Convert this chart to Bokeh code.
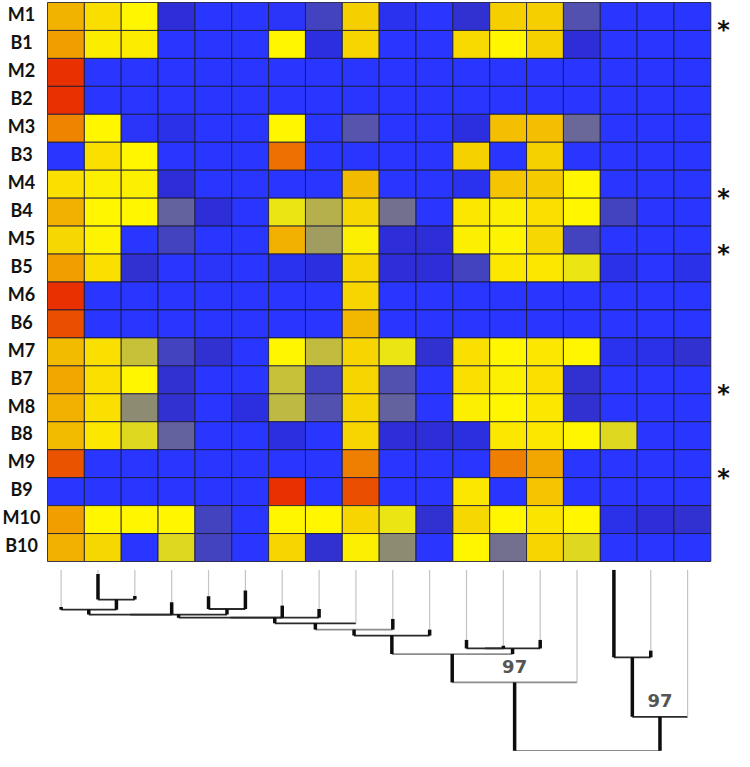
import numpy as np
from bokeh.plotting import figure
from bokeh.models import Range1d, LinearColorMapper, ColumnDataSource
from bokeh.core.properties import value
from bokeh.embed import file_html
from bokeh.resources import INLINE

# ---------------- data ----------------
row_labels = ["M1", "B1", "M2", "B2", "M3", "B3", "M4", "B4", "M5", "B5",
              "M6", "B6", "M7", "B7", "M8", "B8", "M9", "B9", "M10", "B10"]

m1 = [0.70, 0.57, 0.50, 0.05, 0.00, 0.00, 0.01, 0.10, 0.62, 0.02, 0.00, 0.06, 0.62, 0.62, 0.13, 0.00, 0.00, 0.00]
b1 = [0.75, 0.53, 0.53, 0.00, 0.00, 0.00, 0.50, 0.04, 0.60, 0.00, 0.00, 0.58, 0.50, 0.61, 0.05, 0.00, 0.00, 0.00]
m2 = [1.00, 0.00, 0.00, 0.00, 0.00, 0.00, 0.00, 0.00, 0.00, 0.00, 0.00, 0.00, 0.00, 0.00, 0.00, 0.00, 0.00, 0.00]
b2 = [1.00, 0.00, 0.00, 0.00, 0.00, 0.00, 0.00, 0.00, 0.00, 0.00, 0.00, 0.00, 0.00, 0.00, 0.00, 0.00, 0.00, 0.00]
m3 = [0.82, 0.50, 0.01, 0.03, 0.00, 0.00, 0.50, 0.00, 0.14, 0.00, 0.00, 0.04, 0.67, 0.67, 0.18, 0.00, 0.00, 0.00]
b3 = [0.00, 0.56, 0.50, 0.00, 0.00, 0.00, 0.86, 0.00, 0.00, 0.00, 0.00, 0.61, 0.00, 0.61, 0.00, 0.00, 0.00, 0.00]
m4 = [0.56, 0.52, 0.52, 0.05, 0.00, 0.00, 0.00, 0.00, 0.68, 0.00, 0.00, 0.02, 0.65, 0.63, 0.50, 0.00, 0.00, 0.00]
b4 = [0.71, 0.50, 0.50, 0.17, 0.05, 0.00, 0.46, 0.34, 0.59, 0.20, 0.00, 0.54, 0.52, 0.56, 0.50, 0.10, 0.00, 0.00]
m5 = [0.59, 0.51, 0.00, 0.10, 0.00, 0.00, 0.71, 0.30, 0.52, 0.05, 0.05, 0.52, 0.51, 0.59, 0.10, 0.00, 0.00, 0.00]
b5 = [0.75, 0.56, 0.06, 0.00, 0.01, 0.00, 0.02, 0.04, 0.60, 0.05, 0.05, 0.10, 0.54, 0.54, 0.46, 0.03, 0.00, 0.03]
m6 = [1.00, 0.00, 0.00, 0.00, 0.00, 0.00, 0.00, 0.00, 0.60, 0.00, 0.00, 0.00, 0.00, 0.00, 0.00, 0.00, 0.00, 0.00]
b6 = [0.93, 0.00, 0.00, 0.00, 0.00, 0.00, 0.00, 0.00, 0.69, 0.00, 0.00, 0.00, 0.00, 0.00, 0.00, 0.00, 0.00, 0.00]
m7 = [0.68, 0.56, 0.38, 0.10, 0.06, 0.00, 0.50, 0.37, 0.60, 0.46, 0.06, 0.56, 0.50, 0.54, 0.50, 0.02, 0.03, 0.06]
b7 = [0.73, 0.56, 0.50, 0.06, 0.00, 0.00, 0.38, 0.10, 0.60, 0.13, 0.00, 0.56, 0.52, 0.56, 0.06, 0.00, 0.00, 0.00]
m8 = [0.71, 0.56, 0.26, 0.06, 0.00, 0.04, 0.36, 0.13, 0.60, 0.17, 0.00, 0.52, 0.50, 0.54, 0.06, 0.00, 0.00, 0.00]
b8 = [0.68, 0.54, 0.43, 0.17, 0.00, 0.00, 0.04, 0.00, 0.60, 0.05, 0.05, 0.04, 0.54, 0.54, 0.50, 0.43, 0.00, 0.00]
m9 = [0.92, 0.00, 0.00, 0.00, 0.00, 0.00, 0.00, 0.00, 0.83, 0.00, 0.00, 0.00, 0.83, 0.73, 0.00, 0.00, 0.00, 0.00]
b9 = [0.00, 0.00, 0.00, 0.00, 0.00, 0.00, 1.00, 0.00, 0.93, 0.00, 0.00, 0.54, 0.00, 0.65, 0.00, 0.00, 0.00, 0.00]
m10 = [0.75, 0.50, 0.50, 0.50, 0.10, 0.00, 0.50, 0.50, 0.60, 0.46, 0.06, 0.59, 0.50, 0.55, 0.50, 0.03, 0.05, 0.06]
b10 = [0.71, 0.59, 0.00, 0.43, 0.10, 0.00, 0.60, 0.06, 0.52, 0.26, 0.00, 0.50, 0.20, 0.60, 0.43, 0.00, 0.00, 0.00]

matrix = [m1, b1, m2, b2, m3, b3, m4, b4, m5, b5, m6, b6, m7, b7, m8, b8, m9, b9, m10, b10]

# pairs marked with an asterisk (row directly above the marked boundary)
asterisk_rows = ["M1", "M4", "M5", "B7", "M9"]

# dendrogram: merges (child_a, child_b, height); leaves 0..17, internal nodes 18+
merges = [
    (1, 2, 0.164),    # 18
    (0, 18, 0.2196),  # 19
    (19, 3, 0.247),   # 20
    (4, 5, 0.216),    # 21
    (20, 21, 0.247),  # 22
    (22, 6, 0.264),   # 23
    (23, 7, 0.264),   # 24
    (24, 8, 0.295),   # 25
    (25, 9, 0.330),   # 26
    (26, 10, 0.363),  # 27
    (11, 12, 0.434),  # 28
    (28, 13, 0.434),  # 29
    (27, 29, 0.465),  # 30
    (30, 14, 0.622),  # 31
    (15, 16, 0.483),  # 32
    (32, 17, 0.812),  # 33
    (31, 33, 1.000),  # 34 root
]
# branch length of each leaf (drawn thick)
leaf_branch = [0.015, 0.142, 0.020, 0.068, 0.070, 0.102, 0.067, 0.048, 0.0,
               0.059, 0.033, 0.047, 0.015, 0.047, 0.0, 0.483, 0.037, 0.0]
grey_bars = [26, 30, 31, 34]
bootstrap_nodes = [31, 33]
bootstrap_vals = ["97", "97"]

# ---------------- style ----------------
anchors = [(0.00, "#2936ff"), (0.05, "#2d2dd6"), (0.50, "#fff700"), (0.56, "#f9e000"),
           (0.62, "#f6cf00"), (0.68, "#f3bc00"), (0.74, "#f0a300"), (0.83, "#ee8000"),
           (0.92, "#ea5400"), (1.00, "#e83000")]

def hex2rgb(h):
    return [int(h[i:i + 2], 16) for i in (1, 3, 5)]

pos_a = np.array([a[0] for a in anchors])
rgb_a = np.array([hex2rgb(a[1]) for a in anchors], dtype=float)
ts = np.linspace(0, 1, 256)
palette = []
for t in ts:
    c = [np.interp(t, pos_a, rgb_a[:, k]) for k in range(3)]
    palette.append("#%02x%02x%02x" % tuple(int(round(v)) for v in c))
mapper = LinearColorMapper(palette=palette, low=0, high=1)

n_rows = len(row_labels)
n_cols = len(matrix[0])

p = figure(width=730, height=751,
           x_range=Range1d(-1.2755, 18.534), y_range=Range1d(-6.798, 20.0716),
           x_axis_location=None, y_axis_location=None,
           output_backend="svg", toolbar_location=None, min_border=0)
try:
    p.title = None
except Exception:
    p.title.visible = False
p.grid.visible = False
p.outline_line_color = None

xs, ys, vs = [], [], []
for r, row in enumerate(matrix):
    for c, v in enumerate(row):
        xs.append(c + 0.5)
        ys.append(n_rows - r - 0.5)
        vs.append(v)
src = ColumnDataSource(dict(x=xs, y=ys, v=vs))
p.rect(x="x", y="y", width=1, height=1, source=src,
       fill_color={"field": "v", "transform": mapper},
       line_color="#1b1b3a", line_width=1, line_alpha=0.85)

# row labels
p.text(x=[-0.705] * n_rows, y=[n_rows - r - 0.5 + 0.08 for r in range(n_rows)],
       text=row_labels, text_font=value("Lato"), text_font_style="bold",
       text_font_size="18px", text_align="center", text_baseline="middle",
       text_color="#111111")

# asterisks
ast_y = [n_rows - row_labels.index(lbl) - 1 for lbl in asterisk_rows]
p.text(x=[18.345] * len(ast_y), y=ast_y, text=["*"] * len(ast_y),
       text_font=value("DejaVu Sans"), text_font_style="bold", text_font_size="24px",
       text_align="center", text_baseline="middle", text_color="#111111")

# ---------------- dendrogram ----------------
p.extra_y_ranges = {"dend": Range1d(start=1.0039, end=-3.1484)}

n_leaves = n_cols
xpos = {i: i + 0.5 - 0.13 for i in range(n_leaves)}
hgt = {i: 0.0 for i in range(n_leaves)}
parent = {}
for k, (a, b, h) in enumerate(merges):
    node = n_leaves + k
    xpos[node] = (xpos[a] + xpos[b]) / 2
    hgt[node] = h
    parent[a] = node
    parent[b] = node

hx0, hx1, hy, hc = [], [], [], []
for k, (a, b, h) in enumerate(merges):
    node = n_leaves + k
    hx0.append(xpos[a]); hx1.append(xpos[b]); hy.append(h)
    hc.append("#8c8c8c" if node in grey_bars else "#2a2a2a")
p.segment(x0=hx0, y0=hy, x1=hx1, y1=hy, line_color=hc, line_width=1.8,
          y_range_name="dend")

gx, gy0, gy1 = [], [], []
bx, by0, by1 = [], [], []
for node, par in parent.items():
    ph = hgt[par]
    if node < n_leaves:
        bl = leaf_branch[node]
        gx.append(xpos[node]); gy0.append(0.0); gy1.append(ph - bl)
        if bl > 0:
            bx.append(xpos[node]); by0.append(ph - bl); by1.append(ph)
    else:
        if ph - hgt[node] > 0:
            bx.append(xpos[node]); by0.append(hgt[node]); by1.append(ph)
p.segment(x0=gx, y0=gy0, x1=gx, y1=gy1, line_color="#c4c4c4", line_width=1.2,
          y_range_name="dend")
p.segment(x0=bx, y0=by0, x1=bx, y1=by1, line_color="#0d0d0d", line_width=3.5,
          y_range_name="dend")

p.text(x=[xpos[n] for n in bootstrap_nodes], y=[hgt[n] - 0.09 for n in bootstrap_nodes],
       text=bootstrap_vals, text_font=value("DejaVu Sans"), text_font_style="bold",
       text_font_size="18px", text_align="center", text_baseline="middle",
       text_color="#555555", y_range_name="dend")

open("out.html", "w").write(file_html(p, INLINE))
